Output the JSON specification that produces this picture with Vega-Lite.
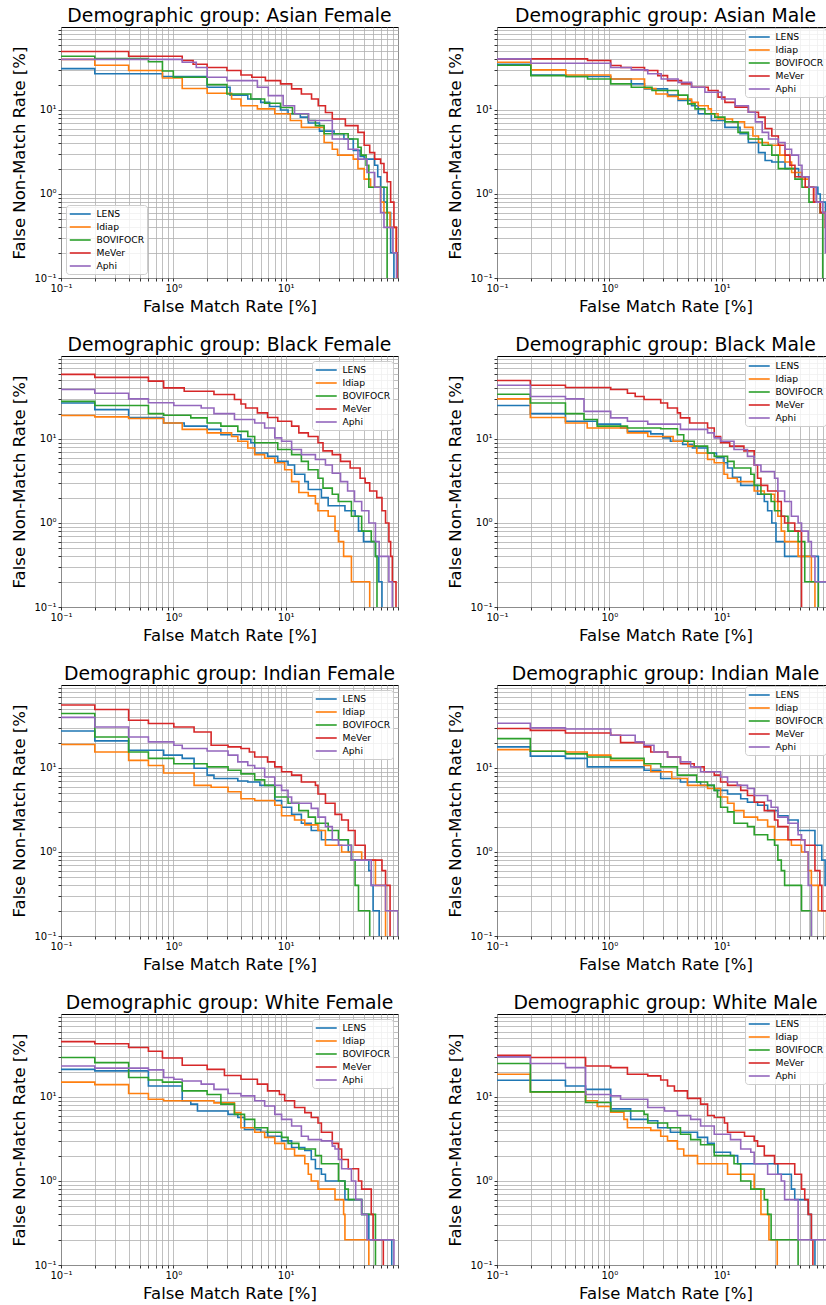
{
"$schema": "https://vega.github.io/schema/vega-lite/v6.json",
"padding": {"left": 10, "top": 6, "right": 0, "bottom": 0},
"spacing": 20,
"resolve": {"legend": {"color": "independent"}},
"config": {
 "font": "DejaVu Sans",
 "view": {"stroke": "#000000", "strokeWidth": 1},
 "axis": {"domain": false, "grid": true, "gridColor": "#b0b0b0", "gridWidth": 0.8, "gridOpacity": 1, "tickColor": "#000000", "tickSize": 3, "tickWidth": 0.8, "labelFont": "DejaVu Sans", "labelFontSize": 10, "labelColor": "#000000", "labelPadding": 2, "labelOverlap": false, "labelFlush": false, "titleFont": "DejaVu Sans", "titleFontSize": 16.5, "titleFontWeight": "normal", "titleColor": "#000000"},
 "title": {"font": "DejaVu Sans", "fontSize": 18.8, "fontWeight": "normal", "color": "#000000", "offset": -1, "anchor": "middle", "frame": "group"},
 "legend": {"labelFont": "DejaVu Sans", "labelFontSize": 9.2, "labelColor": "#000000", "symbolType": "M-1,0H3", "symbolSize": 110, "symbolStrokeWidth": 1.6, "labelOffset": 15, "rowPadding": 1, "padding": 2.5, "fillColor": "rgba(255,255,255,0.8)", "strokeColor": "#cccccc", "cornerRadius": 3, "offset": 5}
},
"vconcat": [
 {"hconcat": [
  {"width": 337, "height": 251, "title": {"text": "Demographic group: Asian Female"}, "data": {"name": "asian_female"},
   "mark": {"type": "line", "interpolate": "step-after", "clip": true, "strokeWidth": 1.6},
   "encoding": {
    "x": {"field": "fmr", "type": "quantitative", "scale": {"type": "log", "domain": [0.1, 100], "nice": false}, "axis": {"title": "False Match Rate [%]", "values": [0.1,0.2,0.3,0.4,0.5,0.6,0.7,0.8,0.9,1,2,3,4,5,6,7,8,9,10,20,30,40,50,60,70,80,90,100], "labelExpr": "datum.value == 0.1 ? '10⁻¹' : datum.value == 1 ? '10⁰' : datum.value == 10 ? '10¹' : ''", "titleX": 168.5, "titleY": 28, "titleBaseline": "middle"}},
    "y": {"field": "fnmr", "type": "quantitative", "scale": {"type": "log", "domain": [0.1, 97], "nice": false}, "axis": {"title": "False Non-Match Rate [%]", "values": [0.1,0.2,0.3,0.4,0.5,0.6,0.7,0.8,0.9,1,2,3,4,5,6,7,8,9,10,20,30,40,50,60,70,80,90], "labelExpr": "datum.value == 0.1 ? '10⁻¹' : datum.value == 1 ? '10⁰' : datum.value == 10 ? '10¹' : ''", "titleX": -42, "titleY": 125.5, "titleAngle": -90, "titleAlign": "center", "titleBaseline": "middle"}},
    "color": {"field": "system", "type": "nominal", "scale": {"domain": ["LENS","Idiap","BOVIFOCR","MeVer","Aphi"], "range": ["#1f77b4","#ff7f0e","#2ca02c","#d62728","#9467bd"]}, "legend": {"title": null, "orient": "bottom-left", "offset": 4.5}}
   }},
  {"width": 330, "height": 251, "title": {"text": "Demographic group: Asian Male", "dx": 3.5}, "data": {"name": "asian_male"},
   "mark": {"type": "line", "interpolate": "step-after", "clip": true, "strokeWidth": 1.6},
   "encoding": {
    "x": {"field": "fmr", "type": "quantitative", "scale": {"type": "log", "domain": [0.1, 86.8], "nice": false}, "axis": {"title": "False Match Rate [%]", "values": [0.1,0.2,0.3,0.4,0.5,0.6,0.7,0.8,0.9,1,2,3,4,5,6,7,8,9,10,20,30,40,50,60,70,80], "labelExpr": "datum.value == 0.1 ? '10⁻¹' : datum.value == 1 ? '10⁰' : datum.value == 10 ? '10¹' : ''", "titleX": 168.5, "titleY": 28, "titleBaseline": "middle"}},
    "y": {"field": "fnmr", "type": "quantitative", "scale": {"type": "log", "domain": [0.1, 97], "nice": false}, "axis": {"title": "False Non-Match Rate [%]", "values": [0.1,0.2,0.3,0.4,0.5,0.6,0.7,0.8,0.9,1,2,3,4,5,6,7,8,9,10,20,30,40,50,60,70,80,90], "labelExpr": "datum.value == 0.1 ? '10⁻¹' : datum.value == 1 ? '10⁰' : datum.value == 10 ? '10¹' : ''", "titleX": -42, "titleY": 125.5, "titleAngle": -90, "titleAlign": "center", "titleBaseline": "middle"}},
    "color": {"field": "system", "type": "nominal", "scale": {"domain": ["LENS","Idiap","BOVIFOCR","MeVer","Aphi"], "range": ["#1f77b4","#ff7f0e","#2ca02c","#d62728","#9467bd"]}, "legend": {"title": null, "orient": "top-right", "offset": 1}}
   }}
 ], "spacing": 47, "resolve": {"legend": {"color": "independent"}}},
 {"hconcat": [
  {"width": 337, "height": 251, "title": {"text": "Demographic group: Black Female"}, "data": {"name": "black_female"},
   "mark": {"type": "line", "interpolate": "step-after", "clip": true, "strokeWidth": 1.6},
   "encoding": {
    "x": {"field": "fmr", "type": "quantitative", "scale": {"type": "log", "domain": [0.1, 100], "nice": false}, "axis": {"title": "False Match Rate [%]", "values": [0.1,0.2,0.3,0.4,0.5,0.6,0.7,0.8,0.9,1,2,3,4,5,6,7,8,9,10,20,30,40,50,60,70,80,90,100], "labelExpr": "datum.value == 0.1 ? '10⁻¹' : datum.value == 1 ? '10⁰' : datum.value == 10 ? '10¹' : ''", "titleX": 168.5, "titleY": 28, "titleBaseline": "middle"}},
    "y": {"field": "fnmr", "type": "quantitative", "scale": {"type": "log", "domain": [0.1, 97], "nice": false}, "axis": {"title": "False Non-Match Rate [%]", "values": [0.1,0.2,0.3,0.4,0.5,0.6,0.7,0.8,0.9,1,2,3,4,5,6,7,8,9,10,20,30,40,50,60,70,80,90], "labelExpr": "datum.value == 0.1 ? '10⁻¹' : datum.value == 1 ? '10⁰' : datum.value == 10 ? '10¹' : ''", "titleX": -42, "titleY": 125.5, "titleAngle": -90, "titleAlign": "center", "titleBaseline": "middle"}},
    "color": {"field": "system", "type": "nominal", "scale": {"domain": ["LENS","Idiap","BOVIFOCR","MeVer","Aphi"], "range": ["#1f77b4","#ff7f0e","#2ca02c","#d62728","#9467bd"]}, "legend": {"title": null, "orient": "top-right", "offset": 5}}
   }},
  {"width": 330, "height": 251, "title": {"text": "Demographic group: Black Male", "dx": 3.5}, "data": {"name": "black_male"},
   "mark": {"type": "line", "interpolate": "step-after", "clip": true, "strokeWidth": 1.6},
   "encoding": {
    "x": {"field": "fmr", "type": "quantitative", "scale": {"type": "log", "domain": [0.1, 86.8], "nice": false}, "axis": {"title": "False Match Rate [%]", "values": [0.1,0.2,0.3,0.4,0.5,0.6,0.7,0.8,0.9,1,2,3,4,5,6,7,8,9,10,20,30,40,50,60,70,80], "labelExpr": "datum.value == 0.1 ? '10⁻¹' : datum.value == 1 ? '10⁰' : datum.value == 10 ? '10¹' : ''", "titleX": 168.5, "titleY": 28, "titleBaseline": "middle"}},
    "y": {"field": "fnmr", "type": "quantitative", "scale": {"type": "log", "domain": [0.1, 97], "nice": false}, "axis": {"title": "False Non-Match Rate [%]", "values": [0.1,0.2,0.3,0.4,0.5,0.6,0.7,0.8,0.9,1,2,3,4,5,6,7,8,9,10,20,30,40,50,60,70,80,90], "labelExpr": "datum.value == 0.1 ? '10⁻¹' : datum.value == 1 ? '10⁰' : datum.value == 10 ? '10¹' : ''", "titleX": -42, "titleY": 125.5, "titleAngle": -90, "titleAlign": "center", "titleBaseline": "middle"}},
    "color": {"field": "system", "type": "nominal", "scale": {"domain": ["LENS","Idiap","BOVIFOCR","MeVer","Aphi"], "range": ["#1f77b4","#ff7f0e","#2ca02c","#d62728","#9467bd"]}, "legend": {"title": null, "orient": "top-right", "offset": 1}}
   }}
 ], "spacing": 47, "resolve": {"legend": {"color": "independent"}}},
 {"hconcat": [
  {"width": 337, "height": 251, "title": {"text": "Demographic group: Indian Female"}, "data": {"name": "indian_female"},
   "mark": {"type": "line", "interpolate": "step-after", "clip": true, "strokeWidth": 1.6},
   "encoding": {
    "x": {"field": "fmr", "type": "quantitative", "scale": {"type": "log", "domain": [0.1, 100], "nice": false}, "axis": {"title": "False Match Rate [%]", "values": [0.1,0.2,0.3,0.4,0.5,0.6,0.7,0.8,0.9,1,2,3,4,5,6,7,8,9,10,20,30,40,50,60,70,80,90,100], "labelExpr": "datum.value == 0.1 ? '10⁻¹' : datum.value == 1 ? '10⁰' : datum.value == 10 ? '10¹' : ''", "titleX": 168.5, "titleY": 28, "titleBaseline": "middle"}},
    "y": {"field": "fnmr", "type": "quantitative", "scale": {"type": "log", "domain": [0.1, 97], "nice": false}, "axis": {"title": "False Non-Match Rate [%]", "values": [0.1,0.2,0.3,0.4,0.5,0.6,0.7,0.8,0.9,1,2,3,4,5,6,7,8,9,10,20,30,40,50,60,70,80,90], "labelExpr": "datum.value == 0.1 ? '10⁻¹' : datum.value == 1 ? '10⁰' : datum.value == 10 ? '10¹' : ''", "titleX": -42, "titleY": 125.5, "titleAngle": -90, "titleAlign": "center", "titleBaseline": "middle"}},
    "color": {"field": "system", "type": "nominal", "scale": {"domain": ["LENS","Idiap","BOVIFOCR","MeVer","Aphi"], "range": ["#1f77b4","#ff7f0e","#2ca02c","#d62728","#9467bd"]}, "legend": {"title": null, "orient": "top-right", "offset": 5}}
   }},
  {"width": 330, "height": 251, "title": {"text": "Demographic group: Indian Male", "dx": 3.5}, "data": {"name": "indian_male"},
   "mark": {"type": "line", "interpolate": "step-after", "clip": true, "strokeWidth": 1.6},
   "encoding": {
    "x": {"field": "fmr", "type": "quantitative", "scale": {"type": "log", "domain": [0.1, 86.8], "nice": false}, "axis": {"title": "False Match Rate [%]", "values": [0.1,0.2,0.3,0.4,0.5,0.6,0.7,0.8,0.9,1,2,3,4,5,6,7,8,9,10,20,30,40,50,60,70,80], "labelExpr": "datum.value == 0.1 ? '10⁻¹' : datum.value == 1 ? '10⁰' : datum.value == 10 ? '10¹' : ''", "titleX": 168.5, "titleY": 28, "titleBaseline": "middle"}},
    "y": {"field": "fnmr", "type": "quantitative", "scale": {"type": "log", "domain": [0.1, 97], "nice": false}, "axis": {"title": "False Non-Match Rate [%]", "values": [0.1,0.2,0.3,0.4,0.5,0.6,0.7,0.8,0.9,1,2,3,4,5,6,7,8,9,10,20,30,40,50,60,70,80,90], "labelExpr": "datum.value == 0.1 ? '10⁻¹' : datum.value == 1 ? '10⁰' : datum.value == 10 ? '10¹' : ''", "titleX": -42, "titleY": 125.5, "titleAngle": -90, "titleAlign": "center", "titleBaseline": "middle"}},
    "color": {"field": "system", "type": "nominal", "scale": {"domain": ["LENS","Idiap","BOVIFOCR","MeVer","Aphi"], "range": ["#1f77b4","#ff7f0e","#2ca02c","#d62728","#9467bd"]}, "legend": {"title": null, "orient": "top-right", "offset": 1}}
   }}
 ], "spacing": 47, "resolve": {"legend": {"color": "independent"}}},
 {"hconcat": [
  {"width": 337, "height": 251, "title": {"text": "Demographic group: White Female"}, "data": {"name": "white_female"},
   "mark": {"type": "line", "interpolate": "step-after", "clip": true, "strokeWidth": 1.6},
   "encoding": {
    "x": {"field": "fmr", "type": "quantitative", "scale": {"type": "log", "domain": [0.1, 100], "nice": false}, "axis": {"title": "False Match Rate [%]", "values": [0.1,0.2,0.3,0.4,0.5,0.6,0.7,0.8,0.9,1,2,3,4,5,6,7,8,9,10,20,30,40,50,60,70,80,90,100], "labelExpr": "datum.value == 0.1 ? '10⁻¹' : datum.value == 1 ? '10⁰' : datum.value == 10 ? '10¹' : ''", "titleX": 168.5, "titleY": 28, "titleBaseline": "middle"}},
    "y": {"field": "fnmr", "type": "quantitative", "scale": {"type": "log", "domain": [0.1, 97], "nice": false}, "axis": {"title": "False Non-Match Rate [%]", "values": [0.1,0.2,0.3,0.4,0.5,0.6,0.7,0.8,0.9,1,2,3,4,5,6,7,8,9,10,20,30,40,50,60,70,80,90], "labelExpr": "datum.value == 0.1 ? '10⁻¹' : datum.value == 1 ? '10⁰' : datum.value == 10 ? '10¹' : ''", "titleX": -42, "titleY": 125.5, "titleAngle": -90, "titleAlign": "center", "titleBaseline": "middle"}},
    "color": {"field": "system", "type": "nominal", "scale": {"domain": ["LENS","Idiap","BOVIFOCR","MeVer","Aphi"], "range": ["#1f77b4","#ff7f0e","#2ca02c","#d62728","#9467bd"]}, "legend": {"title": null, "orient": "top-right", "offset": 5}}
   }},
  {"width": 330, "height": 251, "title": {"text": "Demographic group: White Male", "dx": 3.5}, "data": {"name": "white_male"},
   "mark": {"type": "line", "interpolate": "step-after", "clip": true, "strokeWidth": 1.6},
   "encoding": {
    "x": {"field": "fmr", "type": "quantitative", "scale": {"type": "log", "domain": [0.1, 86.8], "nice": false}, "axis": {"title": "False Match Rate [%]", "values": [0.1,0.2,0.3,0.4,0.5,0.6,0.7,0.8,0.9,1,2,3,4,5,6,7,8,9,10,20,30,40,50,60,70,80], "labelExpr": "datum.value == 0.1 ? '10⁻¹' : datum.value == 1 ? '10⁰' : datum.value == 10 ? '10¹' : ''", "titleX": 168.5, "titleY": 28, "titleBaseline": "middle"}},
    "y": {"field": "fnmr", "type": "quantitative", "scale": {"type": "log", "domain": [0.1, 97], "nice": false}, "axis": {"title": "False Non-Match Rate [%]", "values": [0.1,0.2,0.3,0.4,0.5,0.6,0.7,0.8,0.9,1,2,3,4,5,6,7,8,9,10,20,30,40,50,60,70,80,90], "labelExpr": "datum.value == 0.1 ? '10⁻¹' : datum.value == 1 ? '10⁰' : datum.value == 10 ? '10¹' : ''", "titleX": -42, "titleY": 125.5, "titleAngle": -90, "titleAlign": "center", "titleBaseline": "middle"}},
    "color": {"field": "system", "type": "nominal", "scale": {"domain": ["LENS","Idiap","BOVIFOCR","MeVer","Aphi"], "range": ["#1f77b4","#ff7f0e","#2ca02c","#d62728","#9467bd"]}, "legend": {"title": null, "orient": "top-right", "offset": 1}}
   }}
 ], "spacing": 47, "resolve": {"legend": {"color": "independent"}}}
],
"datasets": {
"asian_female": [
{"system":"LENS","fmr":0.1,"fnmr":31},{"system":"LENS","fmr":0.2,"fnmr":27},{"system":"LENS","fmr":0.8,"fnmr":25},{"system":"LENS","fmr":2,"fnmr":18.6},{"system":"LENS","fmr":3.2,"fnmr":15},{"system":"LENS","fmr":4.6,"fnmr":13.5},{"system":"LENS","fmr":6,"fnmr":12.3},{"system":"LENS","fmr":7.2,"fnmr":11},{"system":"LENS","fmr":9,"fnmr":10},{"system":"LENS","fmr":10.5,"fnmr":9},{"system":"LENS","fmr":13.5,"fnmr":8.2},{"system":"LENS","fmr":15.9,"fnmr":7},{"system":"LENS","fmr":20,"fnmr":5.6},{"system":"LENS","fmr":27,"fnmr":5.2},{"system":"LENS","fmr":33,"fnmr":4.5},{"system":"LENS","fmr":40,"fnmr":3.3},{"system":"LENS","fmr":46,"fnmr":2.8},{"system":"LENS","fmr":50,"fnmr":2.6},{"system":"LENS","fmr":62,"fnmr":2.2},{"system":"LENS","fmr":66,"fnmr":1.6},{"system":"LENS","fmr":70,"fnmr":1.2},{"system":"LENS","fmr":75,"fnmr":0.8},{"system":"LENS","fmr":80,"fnmr":0.6},{"system":"LENS","fmr":86,"fnmr":0.2},{"system":"LENS","fmr":92,"fnmr":0.01},
{"system":"Idiap","fmr":0.1,"fnmr":40},{"system":"Idiap","fmr":0.2,"fnmr":34},{"system":"Idiap","fmr":0.4,"fnmr":29.5},{"system":"Idiap","fmr":0.8,"fnmr":24},{"system":"Idiap","fmr":1.2,"fnmr":18},{"system":"Idiap","fmr":2,"fnmr":15.8},{"system":"Idiap","fmr":3.3,"fnmr":13.5},{"system":"Idiap","fmr":4,"fnmr":11.2},{"system":"Idiap","fmr":5.6,"fnmr":10.3},{"system":"Idiap","fmr":8,"fnmr":9},{"system":"Idiap","fmr":11,"fnmr":7.5},{"system":"Idiap","fmr":13.8,"fnmr":6.2},{"system":"Idiap","fmr":22,"fnmr":4.1},{"system":"Idiap","fmr":26,"fnmr":3.4},{"system":"Idiap","fmr":29,"fnmr":2.9},{"system":"Idiap","fmr":40,"fnmr":2.6},{"system":"Idiap","fmr":44,"fnmr":2},{"system":"Idiap","fmr":50,"fnmr":1.5},{"system":"Idiap","fmr":57,"fnmr":1.2},{"system":"Idiap","fmr":70,"fnmr":0.8},{"system":"Idiap","fmr":75,"fnmr":0.6},{"system":"Idiap","fmr":85,"fnmr":0.4},{"system":"Idiap","fmr":96,"fnmr":0.2},{"system":"Idiap","fmr":99,"fnmr":0.01},
{"system":"BOVIFOCR","fmr":0.1,"fnmr":43.6},{"system":"BOVIFOCR","fmr":0.2,"fnmr":41},{"system":"BOVIFOCR","fmr":0.6,"fnmr":37.5},{"system":"BOVIFOCR","fmr":0.8,"fnmr":29},{"system":"BOVIFOCR","fmr":1,"fnmr":24.5},{"system":"BOVIFOCR","fmr":2,"fnmr":20},{"system":"BOVIFOCR","fmr":3,"fnmr":15.5},{"system":"BOVIFOCR","fmr":4.9,"fnmr":13.5},{"system":"BOVIFOCR","fmr":6.5,"fnmr":12},{"system":"BOVIFOCR","fmr":9,"fnmr":10.7},{"system":"BOVIFOCR","fmr":11.5,"fnmr":9},{"system":"BOVIFOCR","fmr":15.9,"fnmr":7.5},{"system":"BOVIFOCR","fmr":18.4,"fnmr":6.5},{"system":"BOVIFOCR","fmr":22,"fnmr":5.2},{"system":"BOVIFOCR","fmr":36,"fnmr":4.5},{"system":"BOVIFOCR","fmr":44,"fnmr":3.6},{"system":"BOVIFOCR","fmr":47,"fnmr":2.9},{"system":"BOVIFOCR","fmr":52,"fnmr":2.2},{"system":"BOVIFOCR","fmr":55,"fnmr":1.2},{"system":"BOVIFOCR","fmr":80,"fnmr":0.01},
{"system":"MeVer","fmr":0.1,"fnmr":49.5},{"system":"MeVer","fmr":0.4,"fnmr":43.6},{"system":"MeVer","fmr":1.2,"fnmr":38.7},{"system":"MeVer","fmr":1.5,"fnmr":35},{"system":"MeVer","fmr":2,"fnmr":32},{"system":"MeVer","fmr":3,"fnmr":29.5},{"system":"MeVer","fmr":4,"fnmr":26},{"system":"MeVer","fmr":5,"fnmr":24.5},{"system":"MeVer","fmr":6.6,"fnmr":22.3},{"system":"MeVer","fmr":9,"fnmr":20.4},{"system":"MeVer","fmr":11.3,"fnmr":17.8},{"system":"MeVer","fmr":13.8,"fnmr":15.5},{"system":"MeVer","fmr":17,"fnmr":13.5},{"system":"MeVer","fmr":19.5,"fnmr":11.2},{"system":"MeVer","fmr":22.6,"fnmr":9.3},{"system":"MeVer","fmr":26,"fnmr":7.8},{"system":"MeVer","fmr":34,"fnmr":6.5},{"system":"MeVer","fmr":44,"fnmr":5.4},{"system":"MeVer","fmr":50,"fnmr":3.8},{"system":"MeVer","fmr":56,"fnmr":3.1},{"system":"MeVer","fmr":62,"fnmr":2.6},{"system":"MeVer","fmr":70,"fnmr":2.3},{"system":"MeVer","fmr":75,"fnmr":1.8},{"system":"MeVer","fmr":80,"fnmr":1.4},{"system":"MeVer","fmr":86,"fnmr":0.8},{"system":"MeVer","fmr":92,"fnmr":0.4},{"system":"MeVer","fmr":97,"fnmr":0.2},{"system":"MeVer","fmr":100,"fnmr":0.01},
{"system":"Aphi","fmr":0.1,"fnmr":40},{"system":"Aphi","fmr":1.2,"fnmr":37},{"system":"Aphi","fmr":1.6,"fnmr":32},{"system":"Aphi","fmr":2,"fnmr":24.5},{"system":"Aphi","fmr":3,"fnmr":22.3},{"system":"Aphi","fmr":5.6,"fnmr":18.6},{"system":"Aphi","fmr":7,"fnmr":14.8},{"system":"Aphi","fmr":9.5,"fnmr":11.2},{"system":"Aphi","fmr":12,"fnmr":9},{"system":"Aphi","fmr":16,"fnmr":7.5},{"system":"Aphi","fmr":26,"fnmr":4.5},{"system":"Aphi","fmr":36,"fnmr":3.4},{"system":"Aphi","fmr":44,"fnmr":2.6},{"system":"Aphi","fmr":53,"fnmr":1.8},{"system":"Aphi","fmr":62,"fnmr":1.2},{"system":"Aphi","fmr":70,"fnmr":0.6},{"system":"Aphi","fmr":75,"fnmr":0.4},{"system":"Aphi","fmr":90,"fnmr":0.2},{"system":"Aphi","fmr":97,"fnmr":0.01}
],
"asian_male": [
{"system":"LENS","fmr":0.1,"fnmr":35},{"system":"LENS","fmr":0.2,"fnmr":26},{"system":"LENS","fmr":0.41,"fnmr":25},{"system":"LENS","fmr":1.03,"fnmr":23.3},{"system":"LENS","fmr":1.57,"fnmr":20.4},{"system":"LENS","fmr":2.06,"fnmr":17.8},{"system":"LENS","fmr":3.3,"fnmr":15},{"system":"LENS","fmr":4.1,"fnmr":13},{"system":"LENS","fmr":5.4,"fnmr":11.2},{"system":"LENS","fmr":6.2,"fnmr":9},{"system":"LENS","fmr":8.1,"fnmr":7.5},{"system":"LENS","fmr":10.7,"fnmr":6.2},{"system":"LENS","fmr":14.6,"fnmr":5.2},{"system":"LENS","fmr":17.3,"fnmr":4.1},{"system":"LENS","fmr":21.3,"fnmr":3.1},{"system":"LENS","fmr":24.4,"fnmr":2.5},{"system":"LENS","fmr":28,"fnmr":2.4},{"system":"LENS","fmr":36.7,"fnmr":2},{"system":"LENS","fmr":48.5,"fnmr":1.6},{"system":"LENS","fmr":60,"fnmr":1.2},{"system":"LENS","fmr":72,"fnmr":1},{"system":"LENS","fmr":75.6,"fnmr":0.8},{"system":"LENS","fmr":84,"fnmr":0.6},{"system":"LENS","fmr":100,"fnmr":0.01},
{"system":"Idiap","fmr":0.1,"fnmr":37},{"system":"Idiap","fmr":0.2,"fnmr":30},{"system":"Idiap","fmr":0.41,"fnmr":26},{"system":"Idiap","fmr":1.03,"fnmr":23.3},{"system":"Idiap","fmr":2.06,"fnmr":18},{"system":"Idiap","fmr":2.6,"fnmr":15.5},{"system":"Idiap","fmr":3.3,"fnmr":14.5},{"system":"Idiap","fmr":4.1,"fnmr":13.5},{"system":"Idiap","fmr":5.4,"fnmr":12.3},{"system":"Idiap","fmr":6.2,"fnmr":11.2},{"system":"Idiap","fmr":7.6,"fnmr":10.3},{"system":"Idiap","fmr":8.1,"fnmr":9},{"system":"Idiap","fmr":9.3,"fnmr":7.8},{"system":"Idiap","fmr":12.5,"fnmr":7.2},{"system":"Idiap","fmr":16,"fnmr":6.2},{"system":"Idiap","fmr":19,"fnmr":4.9},{"system":"Idiap","fmr":21.3,"fnmr":4.1},{"system":"Idiap","fmr":26,"fnmr":3.8},{"system":"Idiap","fmr":33,"fnmr":2.9},{"system":"Idiap","fmr":36.7,"fnmr":2.4},{"system":"Idiap","fmr":42,"fnmr":1.8},{"system":"Idiap","fmr":52,"fnmr":1.5},{"system":"Idiap","fmr":60,"fnmr":1.2},{"system":"Idiap","fmr":66,"fnmr":0.8},{"system":"Idiap","fmr":75.6,"fnmr":0.6},{"system":"Idiap","fmr":84,"fnmr":0.4},{"system":"Idiap","fmr":100,"fnmr":0.01},
{"system":"BOVIFOCR","fmr":0.1,"fnmr":34},{"system":"BOVIFOCR","fmr":0.2,"fnmr":25.6},{"system":"BOVIFOCR","fmr":0.41,"fnmr":25},{"system":"BOVIFOCR","fmr":0.64,"fnmr":23.3},{"system":"BOVIFOCR","fmr":1.03,"fnmr":20.4},{"system":"BOVIFOCR","fmr":1.57,"fnmr":18.6},{"system":"BOVIFOCR","fmr":2.4,"fnmr":17},{"system":"BOVIFOCR","fmr":4.1,"fnmr":15},{"system":"BOVIFOCR","fmr":5,"fnmr":11.8},{"system":"BOVIFOCR","fmr":5.8,"fnmr":10.3},{"system":"BOVIFOCR","fmr":7.1,"fnmr":9},{"system":"BOVIFOCR","fmr":8.7,"fnmr":8.2},{"system":"BOVIFOCR","fmr":10.7,"fnmr":7.2},{"system":"BOVIFOCR","fmr":14,"fnmr":5.4},{"system":"BOVIFOCR","fmr":17.3,"fnmr":4.5},{"system":"BOVIFOCR","fmr":23,"fnmr":3.8},{"system":"BOVIFOCR","fmr":28,"fnmr":2.9},{"system":"BOVIFOCR","fmr":32,"fnmr":2},{"system":"BOVIFOCR","fmr":45,"fnmr":1.5},{"system":"BOVIFOCR","fmr":52,"fnmr":1.2},{"system":"BOVIFOCR","fmr":60,"fnmr":0.8},{"system":"BOVIFOCR","fmr":75.6,"fnmr":0.6},{"system":"BOVIFOCR","fmr":79.5,"fnmr":0.01},
{"system":"MeVer","fmr":0.1,"fnmr":40.5},{"system":"MeVer","fmr":0.64,"fnmr":38.7},{"system":"MeVer","fmr":1.03,"fnmr":33.8},{"system":"MeVer","fmr":1.27,"fnmr":32},{"system":"MeVer","fmr":2.06,"fnmr":29.5},{"system":"MeVer","fmr":2.7,"fnmr":25.6},{"system":"MeVer","fmr":3.3,"fnmr":22.3},{"system":"MeVer","fmr":4.4,"fnmr":20.4},{"system":"MeVer","fmr":5.4,"fnmr":18.6},{"system":"MeVer","fmr":7.6,"fnmr":17},{"system":"MeVer","fmr":9.3,"fnmr":14.2},{"system":"MeVer","fmr":10.7,"fnmr":12.3},{"system":"MeVer","fmr":13.2,"fnmr":10.8},{"system":"MeVer","fmr":17.3,"fnmr":9.4},{"system":"MeVer","fmr":21.3,"fnmr":8.2},{"system":"MeVer","fmr":24.4,"fnmr":6},{"system":"MeVer","fmr":28,"fnmr":4.9},{"system":"MeVer","fmr":32,"fnmr":3.8},{"system":"MeVer","fmr":36.7,"fnmr":2.9},{"system":"MeVer","fmr":40.6,"fnmr":2.2},{"system":"MeVer","fmr":45,"fnmr":1.6},{"system":"MeVer","fmr":55.5,"fnmr":1.2},{"system":"MeVer","fmr":66,"fnmr":0.8},{"system":"MeVer","fmr":75.6,"fnmr":0.6},{"system":"MeVer","fmr":84,"fnmr":0.4},{"system":"MeVer","fmr":92,"fnmr":0.2},{"system":"MeVer","fmr":100,"fnmr":0.01},
{"system":"Aphi","fmr":0.1,"fnmr":40.5},{"system":"Aphi","fmr":0.2,"fnmr":36},{"system":"Aphi","fmr":1.03,"fnmr":32},{"system":"Aphi","fmr":1.57,"fnmr":30},{"system":"Aphi","fmr":2.2,"fnmr":27},{"system":"Aphi","fmr":2.9,"fnmr":23.3},{"system":"Aphi","fmr":4.1,"fnmr":21.3},{"system":"Aphi","fmr":5.4,"fnmr":18.6},{"system":"Aphi","fmr":7.1,"fnmr":16.2},{"system":"Aphi","fmr":10,"fnmr":13.5},{"system":"Aphi","fmr":13.2,"fnmr":11.2},{"system":"Aphi","fmr":17.3,"fnmr":9.4},{"system":"Aphi","fmr":20,"fnmr":7.2},{"system":"Aphi","fmr":23,"fnmr":5.4},{"system":"Aphi","fmr":26.2,"fnmr":4.5},{"system":"Aphi","fmr":32,"fnmr":4.1},{"system":"Aphi","fmr":36.7,"fnmr":3.4},{"system":"Aphi","fmr":42,"fnmr":2.9},{"system":"Aphi","fmr":48.5,"fnmr":2.2},{"system":"Aphi","fmr":52,"fnmr":1.6},{"system":"Aphi","fmr":60,"fnmr":1.2},{"system":"Aphi","fmr":69.5,"fnmr":0.8},{"system":"Aphi","fmr":79.5,"fnmr":0.6},{"system":"Aphi","fmr":84,"fnmr":0.2},{"system":"Aphi","fmr":100,"fnmr":0.01}
],
"black_female": [
{"system":"LENS","fmr":0.1,"fnmr":26.8},{"system":"LENS","fmr":0.2,"fnmr":22.3},{"system":"LENS","fmr":0.4,"fnmr":18},{"system":"LENS","fmr":0.82,"fnmr":15.5},{"system":"LENS","fmr":1.25,"fnmr":14.2},{"system":"LENS","fmr":2,"fnmr":13},{"system":"LENS","fmr":2.65,"fnmr":11.2},{"system":"LENS","fmr":4,"fnmr":9.9},{"system":"LENS","fmr":4.9,"fnmr":9},{"system":"LENS","fmr":5.3,"fnmr":6.8},{"system":"LENS","fmr":6.9,"fnmr":6.2},{"system":"LENS","fmr":8.5,"fnmr":5.4},{"system":"LENS","fmr":10.5,"fnmr":4.9},{"system":"LENS","fmr":12,"fnmr":3.8},{"system":"LENS","fmr":14.8,"fnmr":3.1},{"system":"LENS","fmr":15.9,"fnmr":2.5},{"system":"LENS","fmr":20.8,"fnmr":2},{"system":"LENS","fmr":23.9,"fnmr":1.6},{"system":"LENS","fmr":33.7,"fnmr":1.4},{"system":"LENS","fmr":41.5,"fnmr":1.2},{"system":"LENS","fmr":44.5,"fnmr":0.8},{"system":"LENS","fmr":49.3,"fnmr":0.6},{"system":"LENS","fmr":63,"fnmr":0.4},{"system":"LENS","fmr":67.5,"fnmr":0.2},{"system":"LENS","fmr":72,"fnmr":0.01},
{"system":"Idiap","fmr":0.1,"fnmr":19},{"system":"Idiap","fmr":0.2,"fnmr":18.3},{"system":"Idiap","fmr":0.4,"fnmr":17.5},{"system":"Idiap","fmr":0.82,"fnmr":15.5},{"system":"Idiap","fmr":1.2,"fnmr":13},{"system":"Idiap","fmr":2,"fnmr":11.8},{"system":"Idiap","fmr":3.3,"fnmr":10.7},{"system":"Idiap","fmr":3.75,"fnmr":9.4},{"system":"Idiap","fmr":4.6,"fnmr":7.8},{"system":"Idiap","fmr":5.3,"fnmr":6.5},{"system":"Idiap","fmr":6.5,"fnmr":5.9},{"system":"Idiap","fmr":8,"fnmr":5.2},{"system":"Idiap","fmr":9.8,"fnmr":4.3},{"system":"Idiap","fmr":11.3,"fnmr":3.1},{"system":"Idiap","fmr":13.1,"fnmr":2.3},{"system":"Idiap","fmr":15.9,"fnmr":2.1},{"system":"Idiap","fmr":18.4,"fnmr":1.7},{"system":"Idiap","fmr":19.4,"fnmr":1.4},{"system":"Idiap","fmr":23.9,"fnmr":1.2},{"system":"Idiap","fmr":27.5,"fnmr":0.8},{"system":"Idiap","fmr":29.5,"fnmr":0.6},{"system":"Idiap","fmr":32.8,"fnmr":0.4},{"system":"Idiap","fmr":38.5,"fnmr":0.2},{"system":"Idiap","fmr":56,"fnmr":0.01},
{"system":"BOVIFOCR","fmr":0.1,"fnmr":28},{"system":"BOVIFOCR","fmr":0.2,"fnmr":25},{"system":"BOVIFOCR","fmr":0.6,"fnmr":20},{"system":"BOVIFOCR","fmr":0.82,"fnmr":19.1},{"system":"BOVIFOCR","fmr":1.43,"fnmr":17.8},{"system":"BOVIFOCR","fmr":2,"fnmr":15.5},{"system":"BOVIFOCR","fmr":2.65,"fnmr":14.2},{"system":"BOVIFOCR","fmr":3.75,"fnmr":12.3},{"system":"BOVIFOCR","fmr":4.6,"fnmr":10.7},{"system":"BOVIFOCR","fmr":5.3,"fnmr":9},{"system":"BOVIFOCR","fmr":8.5,"fnmr":7.5},{"system":"BOVIFOCR","fmr":11.3,"fnmr":6.5},{"system":"BOVIFOCR","fmr":13.8,"fnmr":5.4},{"system":"BOVIFOCR","fmr":15.9,"fnmr":4.3},{"system":"BOVIFOCR","fmr":19.4,"fnmr":3.4},{"system":"BOVIFOCR","fmr":21.5,"fnmr":2.6},{"system":"BOVIFOCR","fmr":26,"fnmr":2.2},{"system":"BOVIFOCR","fmr":29.4,"fnmr":1.8},{"system":"BOVIFOCR","fmr":38.5,"fnmr":1.2},{"system":"BOVIFOCR","fmr":47.5,"fnmr":0.8},{"system":"BOVIFOCR","fmr":57.8,"fnmr":0.6},{"system":"BOVIFOCR","fmr":63,"fnmr":0.4},{"system":"BOVIFOCR","fmr":65,"fnmr":0.01},
{"system":"MeVer","fmr":0.1,"fnmr":58.6},{"system":"MeVer","fmr":0.2,"fnmr":54},{"system":"MeVer","fmr":0.6,"fnmr":48.7},{"system":"MeVer","fmr":0.82,"fnmr":40.5},{"system":"MeVer","fmr":1.25,"fnmr":37},{"system":"MeVer","fmr":2.3,"fnmr":33.8},{"system":"MeVer","fmr":3.5,"fnmr":29.5},{"system":"MeVer","fmr":4,"fnmr":26},{"system":"MeVer","fmr":4.4,"fnmr":23.3},{"system":"MeVer","fmr":5.6,"fnmr":20.4},{"system":"MeVer","fmr":6.9,"fnmr":18},{"system":"MeVer","fmr":8.5,"fnmr":16.2},{"system":"MeVer","fmr":11.3,"fnmr":14.2},{"system":"MeVer","fmr":13.1,"fnmr":11.8},{"system":"MeVer","fmr":15.9,"fnmr":10.7},{"system":"MeVer","fmr":19.4,"fnmr":9},{"system":"MeVer","fmr":21.5,"fnmr":7.2},{"system":"MeVer","fmr":26,"fnmr":6.5},{"system":"MeVer","fmr":30.8,"fnmr":5.4},{"system":"MeVer","fmr":37.5,"fnmr":4.5},{"system":"MeVer","fmr":46,"fnmr":3.4},{"system":"MeVer","fmr":51,"fnmr":3},{"system":"MeVer","fmr":56,"fnmr":2.4},{"system":"MeVer","fmr":64.7,"fnmr":2},{"system":"MeVer","fmr":72,"fnmr":1.4},{"system":"MeVer","fmr":77.5,"fnmr":1},{"system":"MeVer","fmr":83,"fnmr":0.6},{"system":"MeVer","fmr":86,"fnmr":0.4},{"system":"MeVer","fmr":89,"fnmr":0.2},{"system":"MeVer","fmr":96,"fnmr":0.01},
{"system":"Aphi","fmr":0.1,"fnmr":38.7},{"system":"Aphi","fmr":0.2,"fnmr":35},{"system":"Aphi","fmr":0.4,"fnmr":30},{"system":"Aphi","fmr":0.6,"fnmr":27},{"system":"Aphi","fmr":1.01,"fnmr":25},{"system":"Aphi","fmr":1.77,"fnmr":23.3},{"system":"Aphi","fmr":2.3,"fnmr":20},{"system":"Aphi","fmr":3.5,"fnmr":17},{"system":"Aphi","fmr":5.3,"fnmr":15.5},{"system":"Aphi","fmr":6.5,"fnmr":13.5},{"system":"Aphi","fmr":8,"fnmr":10.3},{"system":"Aphi","fmr":9.2,"fnmr":9.4},{"system":"Aphi","fmr":11.3,"fnmr":7.5},{"system":"Aphi","fmr":13.8,"fnmr":6.5},{"system":"Aphi","fmr":18.4,"fnmr":5.7},{"system":"Aphi","fmr":22.6,"fnmr":4.9},{"system":"Aphi","fmr":26,"fnmr":3.9},{"system":"Aphi","fmr":30.8,"fnmr":3.1},{"system":"Aphi","fmr":35.6,"fnmr":2.4},{"system":"Aphi","fmr":41,"fnmr":1.8},{"system":"Aphi","fmr":47.5,"fnmr":1.4},{"system":"Aphi","fmr":55,"fnmr":1},{"system":"Aphi","fmr":63,"fnmr":0.6},{"system":"Aphi","fmr":68,"fnmr":0.4},{"system":"Aphi","fmr":83,"fnmr":0.2},{"system":"Aphi","fmr":89,"fnmr":0.01}
],
"black_male": [
{"system":"LENS","fmr":0.1,"fnmr":25},{"system":"LENS","fmr":0.198,"fnmr":20},{"system":"LENS","fmr":0.407,"fnmr":16.2},{"system":"LENS","fmr":0.78,"fnmr":15},{"system":"LENS","fmr":1.26,"fnmr":13.5},{"system":"LENS","fmr":1.45,"fnmr":12.3},{"system":"LENS","fmr":2.34,"fnmr":11.5},{"system":"LENS","fmr":3,"fnmr":10.3},{"system":"LENS","fmr":3.5,"fnmr":9.4},{"system":"LENS","fmr":4.5,"fnmr":8.6},{"system":"LENS","fmr":5.5,"fnmr":7.8},{"system":"LENS","fmr":7.5,"fnmr":6.8},{"system":"LENS","fmr":9,"fnmr":6},{"system":"LENS","fmr":10.5,"fnmr":5.2},{"system":"LENS","fmr":11.3,"fnmr":4.5},{"system":"LENS","fmr":12.5,"fnmr":3.5},{"system":"LENS","fmr":14.8,"fnmr":2.8},{"system":"LENS","fmr":20.9,"fnmr":2.2},{"system":"LENS","fmr":24,"fnmr":1.8},{"system":"LENS","fmr":25.7,"fnmr":1.4},{"system":"LENS","fmr":28,"fnmr":1},{"system":"LENS","fmr":30.5,"fnmr":0.6},{"system":"LENS","fmr":36.4,"fnmr":0.4},{"system":"LENS","fmr":72.7,"fnmr":0.2},{"system":"LENS","fmr":100,"fnmr":0.01},
{"system":"Idiap","fmr":0.1,"fnmr":30},{"system":"Idiap","fmr":0.198,"fnmr":18},{"system":"Idiap","fmr":0.407,"fnmr":15.5},{"system":"Idiap","fmr":0.636,"fnmr":13.5},{"system":"Idiap","fmr":1.45,"fnmr":11.8},{"system":"Idiap","fmr":2.2,"fnmr":10.7},{"system":"Idiap","fmr":3.7,"fnmr":9.4},{"system":"Idiap","fmr":5,"fnmr":8.2},{"system":"Idiap","fmr":6,"fnmr":6.8},{"system":"Idiap","fmr":7.5,"fnmr":5.7},{"system":"Idiap","fmr":8.6,"fnmr":5.2},{"system":"Idiap","fmr":10.5,"fnmr":3.8},{"system":"Idiap","fmr":11.3,"fnmr":3.4},{"system":"Idiap","fmr":13.8,"fnmr":3.1},{"system":"Idiap","fmr":19.5,"fnmr":2.4},{"system":"Idiap","fmr":24,"fnmr":2.2},{"system":"Idiap","fmr":29.6,"fnmr":1.8},{"system":"Idiap","fmr":31.7,"fnmr":1.2},{"system":"Idiap","fmr":34,"fnmr":0.8},{"system":"Idiap","fmr":36.4,"fnmr":0.6},{"system":"Idiap","fmr":48,"fnmr":0.4},{"system":"Idiap","fmr":63,"fnmr":0.2},{"system":"Idiap","fmr":67.8,"fnmr":0.01},
{"system":"BOVIFOCR","fmr":0.1,"fnmr":34},{"system":"BOVIFOCR","fmr":0.198,"fnmr":26.8},{"system":"BOVIFOCR","fmr":0.407,"fnmr":20},{"system":"BOVIFOCR","fmr":0.595,"fnmr":17},{"system":"BOVIFOCR","fmr":0.78,"fnmr":14.2},{"system":"BOVIFOCR","fmr":1.45,"fnmr":13.5},{"system":"BOVIFOCR","fmr":2.87,"fnmr":13.2},{"system":"BOVIFOCR","fmr":4.04,"fnmr":11.2},{"system":"BOVIFOCR","fmr":4.6,"fnmr":9.4},{"system":"BOVIFOCR","fmr":5.7,"fnmr":8.2},{"system":"BOVIFOCR","fmr":7.5,"fnmr":6.8},{"system":"BOVIFOCR","fmr":8.6,"fnmr":6.2},{"system":"BOVIFOCR","fmr":11.3,"fnmr":5.4},{"system":"BOVIFOCR","fmr":12.9,"fnmr":4.5},{"system":"BOVIFOCR","fmr":18.2,"fnmr":3.8},{"system":"BOVIFOCR","fmr":19.5,"fnmr":2.8},{"system":"BOVIFOCR","fmr":22.4,"fnmr":2.2},{"system":"BOVIFOCR","fmr":27.6,"fnmr":1.8},{"system":"BOVIFOCR","fmr":29.6,"fnmr":1.4},{"system":"BOVIFOCR","fmr":34,"fnmr":1.2},{"system":"BOVIFOCR","fmr":39,"fnmr":0.8},{"system":"BOVIFOCR","fmr":48,"fnmr":0.6},{"system":"BOVIFOCR","fmr":55,"fnmr":0.2},{"system":"BOVIFOCR","fmr":72.7,"fnmr":0.01},
{"system":"MeVer","fmr":0.1,"fnmr":49.5},{"system":"MeVer","fmr":0.198,"fnmr":43.6},{"system":"MeVer","fmr":0.407,"fnmr":41},{"system":"MeVer","fmr":1.03,"fnmr":38.7},{"system":"MeVer","fmr":1.45,"fnmr":35},{"system":"MeVer","fmr":1.7,"fnmr":32},{"system":"MeVer","fmr":2.04,"fnmr":29.5},{"system":"MeVer","fmr":2.87,"fnmr":26.8},{"system":"MeVer","fmr":3.3,"fnmr":23.3},{"system":"MeVer","fmr":4.04,"fnmr":20.4},{"system":"MeVer","fmr":4.3,"fnmr":17.8},{"system":"MeVer","fmr":5.2,"fnmr":15.5},{"system":"MeVer","fmr":7.5,"fnmr":13.5},{"system":"MeVer","fmr":8.6,"fnmr":10.7},{"system":"MeVer","fmr":9.8,"fnmr":9},{"system":"MeVer","fmr":11.8,"fnmr":8.2},{"system":"MeVer","fmr":15.8,"fnmr":7.2},{"system":"MeVer","fmr":19.5,"fnmr":4.9},{"system":"MeVer","fmr":20.9,"fnmr":3.4},{"system":"MeVer","fmr":22.4,"fnmr":2.8},{"system":"MeVer","fmr":25.7,"fnmr":2.4},{"system":"MeVer","fmr":31.7,"fnmr":1.8},{"system":"MeVer","fmr":34,"fnmr":1.2},{"system":"MeVer","fmr":36.4,"fnmr":1},{"system":"MeVer","fmr":44.8,"fnmr":0.8},{"system":"MeVer","fmr":51.5,"fnmr":0.01},
{"system":"Aphi","fmr":0.1,"fnmr":43.6},{"system":"Aphi","fmr":0.198,"fnmr":32},{"system":"Aphi","fmr":0.407,"fnmr":30},{"system":"Aphi","fmr":0.595,"fnmr":21.3},{"system":"Aphi","fmr":1.03,"fnmr":17.8},{"system":"Aphi","fmr":1.45,"fnmr":16.2},{"system":"Aphi","fmr":2.2,"fnmr":15},{"system":"Aphi","fmr":4.3,"fnmr":13},{"system":"Aphi","fmr":7.5,"fnmr":11.8},{"system":"Aphi","fmr":8.6,"fnmr":10.3},{"system":"Aphi","fmr":9.8,"fnmr":9.4},{"system":"Aphi","fmr":12.9,"fnmr":7.5},{"system":"Aphi","fmr":17,"fnmr":6.2},{"system":"Aphi","fmr":19.5,"fnmr":4.9},{"system":"Aphi","fmr":22.4,"fnmr":4.1},{"system":"Aphi","fmr":29.6,"fnmr":3.4},{"system":"Aphi","fmr":31.7,"fnmr":2.4},{"system":"Aphi","fmr":36.4,"fnmr":1.8},{"system":"Aphi","fmr":41.8,"fnmr":1.2},{"system":"Aphi","fmr":48,"fnmr":1},{"system":"Aphi","fmr":51.5,"fnmr":0.8},{"system":"Aphi","fmr":59,"fnmr":0.6},{"system":"Aphi","fmr":63,"fnmr":0.4},{"system":"Aphi","fmr":67.8,"fnmr":0.2},{"system":"Aphi","fmr":100,"fnmr":0.01}
],
"indian_female": [
{"system":"LENS","fmr":0.1,"fnmr":27.5},{"system":"LENS","fmr":0.2,"fnmr":21},{"system":"LENS","fmr":0.4,"fnmr":16.2},{"system":"LENS","fmr":0.82,"fnmr":14.2},{"system":"LENS","fmr":1.2,"fnmr":13},{"system":"LENS","fmr":1.53,"fnmr":9.9},{"system":"LENS","fmr":2,"fnmr":8.2},{"system":"LENS","fmr":2.3,"fnmr":7.5},{"system":"LENS","fmr":3.75,"fnmr":7},{"system":"LENS","fmr":4.6,"fnmr":6.8},{"system":"LENS","fmr":5.9,"fnmr":6.2},{"system":"LENS","fmr":8,"fnmr":4.1},{"system":"LENS","fmr":9.2,"fnmr":3.4},{"system":"LENS","fmr":11.3,"fnmr":2.8},{"system":"LENS","fmr":13.8,"fnmr":2.2},{"system":"LENS","fmr":16.9,"fnmr":1.8},{"system":"LENS","fmr":20.8,"fnmr":1.4},{"system":"LENS","fmr":36.1,"fnmr":1},{"system":"LENS","fmr":38.5,"fnmr":0.8},{"system":"LENS","fmr":55,"fnmr":0.6},{"system":"LENS","fmr":57.8,"fnmr":0.4},{"system":"LENS","fmr":60,"fnmr":0.2},{"system":"LENS","fmr":68,"fnmr":0.01},
{"system":"Idiap","fmr":0.1,"fnmr":19},{"system":"Idiap","fmr":0.2,"fnmr":15.5},{"system":"Idiap","fmr":0.4,"fnmr":12.3},{"system":"Idiap","fmr":0.6,"fnmr":10.7},{"system":"Idiap","fmr":0.82,"fnmr":8.7},{"system":"Idiap","fmr":1.53,"fnmr":6.2},{"system":"Idiap","fmr":2.17,"fnmr":5.9},{"system":"Idiap","fmr":3.07,"fnmr":5.2},{"system":"Idiap","fmr":4,"fnmr":4.3},{"system":"Idiap","fmr":5.3,"fnmr":4.1},{"system":"Idiap","fmr":8,"fnmr":3.6},{"system":"Idiap","fmr":9.2,"fnmr":2.7},{"system":"Idiap","fmr":12,"fnmr":2.4},{"system":"Idiap","fmr":14.8,"fnmr":2.1},{"system":"Idiap","fmr":19.4,"fnmr":1.8},{"system":"Idiap","fmr":22.6,"fnmr":1.2},{"system":"Idiap","fmr":31.5,"fnmr":1},{"system":"Idiap","fmr":47.5,"fnmr":0.8},{"system":"Idiap","fmr":63,"fnmr":0.4},{"system":"Idiap","fmr":77.5,"fnmr":0.01},
{"system":"BOVIFOCR","fmr":0.1,"fnmr":44.5},{"system":"BOVIFOCR","fmr":0.2,"fnmr":23.3},{"system":"BOVIFOCR","fmr":0.4,"fnmr":15.5},{"system":"BOVIFOCR","fmr":0.6,"fnmr":13},{"system":"BOVIFOCR","fmr":1.01,"fnmr":11.2},{"system":"BOVIFOCR","fmr":2,"fnmr":10.3},{"system":"BOVIFOCR","fmr":3.07,"fnmr":9.4},{"system":"BOVIFOCR","fmr":4,"fnmr":8.5},{"system":"BOVIFOCR","fmr":5.3,"fnmr":7.2},{"system":"BOVIFOCR","fmr":6.5,"fnmr":6.2},{"system":"BOVIFOCR","fmr":8,"fnmr":4.5},{"system":"BOVIFOCR","fmr":10.5,"fnmr":3.8},{"system":"BOVIFOCR","fmr":13.1,"fnmr":3.1},{"system":"BOVIFOCR","fmr":15.9,"fnmr":2.6},{"system":"BOVIFOCR","fmr":18.4,"fnmr":2.2},{"system":"BOVIFOCR","fmr":23.9,"fnmr":1.8},{"system":"BOVIFOCR","fmr":29.5,"fnmr":1.4},{"system":"BOVIFOCR","fmr":36.1,"fnmr":1.2},{"system":"BOVIFOCR","fmr":38.5,"fnmr":0.8},{"system":"BOVIFOCR","fmr":41.5,"fnmr":0.4},{"system":"BOVIFOCR","fmr":44.5,"fnmr":0.2},{"system":"BOVIFOCR","fmr":56,"fnmr":0.01},
{"system":"MeVer","fmr":0.1,"fnmr":56},{"system":"MeVer","fmr":0.2,"fnmr":49.5},{"system":"MeVer","fmr":0.4,"fnmr":37},{"system":"MeVer","fmr":0.6,"fnmr":33.8},{"system":"MeVer","fmr":1.01,"fnmr":30.7},{"system":"MeVer","fmr":1.53,"fnmr":26.8},{"system":"MeVer","fmr":2.17,"fnmr":18.6},{"system":"MeVer","fmr":3.07,"fnmr":17.8},{"system":"MeVer","fmr":4,"fnmr":17},{"system":"MeVer","fmr":4.75,"fnmr":15.5},{"system":"MeVer","fmr":5.3,"fnmr":13.5},{"system":"MeVer","fmr":6.9,"fnmr":11.8},{"system":"MeVer","fmr":8,"fnmr":10.3},{"system":"MeVer","fmr":9.2,"fnmr":9},{"system":"MeVer","fmr":11.3,"fnmr":8.2},{"system":"MeVer","fmr":13.8,"fnmr":6.8},{"system":"MeVer","fmr":18.4,"fnmr":6.2},{"system":"MeVer","fmr":19.4,"fnmr":4.9},{"system":"MeVer","fmr":22.6,"fnmr":3.8},{"system":"MeVer","fmr":27.5,"fnmr":2.8},{"system":"MeVer","fmr":31.5,"fnmr":2.4},{"system":"MeVer","fmr":36.1,"fnmr":1.8},{"system":"MeVer","fmr":41.5,"fnmr":1.2},{"system":"MeVer","fmr":51,"fnmr":0.8},{"system":"MeVer","fmr":72,"fnmr":0.6},{"system":"MeVer","fmr":77.5,"fnmr":0.4},{"system":"MeVer","fmr":85,"fnmr":0.01},
{"system":"Aphi","fmr":0.1,"fnmr":40},{"system":"Aphi","fmr":0.2,"fnmr":30.7},{"system":"Aphi","fmr":0.4,"fnmr":23.3},{"system":"Aphi","fmr":0.6,"fnmr":20.4},{"system":"Aphi","fmr":1.01,"fnmr":18.6},{"system":"Aphi","fmr":1.2,"fnmr":17},{"system":"Aphi","fmr":2,"fnmr":15.9},{"system":"Aphi","fmr":3.07,"fnmr":14.2},{"system":"Aphi","fmr":3.75,"fnmr":11.8},{"system":"Aphi","fmr":4.6,"fnmr":10.7},{"system":"Aphi","fmr":5.3,"fnmr":9.9},{"system":"Aphi","fmr":6.5,"fnmr":7.8},{"system":"Aphi","fmr":8,"fnmr":6.2},{"system":"Aphi","fmr":9.2,"fnmr":5.4},{"system":"Aphi","fmr":10.5,"fnmr":4.5},{"system":"Aphi","fmr":11.3,"fnmr":3.8},{"system":"Aphi","fmr":16.9,"fnmr":3.3},{"system":"Aphi","fmr":19.4,"fnmr":2.6},{"system":"Aphi","fmr":22.6,"fnmr":2},{"system":"Aphi","fmr":26,"fnmr":1.4},{"system":"Aphi","fmr":29.5,"fnmr":1.2},{"system":"Aphi","fmr":38.5,"fnmr":0.8},{"system":"Aphi","fmr":57.8,"fnmr":0.4},{"system":"Aphi","fmr":77.5,"fnmr":0.2},{"system":"Aphi","fmr":100,"fnmr":0.01}
],
"indian_male": [
{"system":"LENS","fmr":0.1,"fnmr":17.8},{"system":"LENS","fmr":0.198,"fnmr":13.8},{"system":"LENS","fmr":0.407,"fnmr":13},{"system":"LENS","fmr":0.636,"fnmr":10.3},{"system":"LENS","fmr":2.04,"fnmr":9.4},{"system":"LENS","fmr":2.87,"fnmr":7.5},{"system":"LENS","fmr":4.3,"fnmr":6.8},{"system":"LENS","fmr":6.5,"fnmr":6.2},{"system":"LENS","fmr":8.6,"fnmr":5.4},{"system":"LENS","fmr":11.3,"fnmr":4.9},{"system":"LENS","fmr":14.8,"fnmr":4.3},{"system":"LENS","fmr":17,"fnmr":3.9},{"system":"LENS","fmr":20.9,"fnmr":3.6},{"system":"LENS","fmr":25.7,"fnmr":3.1},{"system":"LENS","fmr":31.7,"fnmr":2.7},{"system":"LENS","fmr":39,"fnmr":2.4},{"system":"LENS","fmr":48,"fnmr":1.8},{"system":"LENS","fmr":67.8,"fnmr":1.2},{"system":"LENS","fmr":78,"fnmr":0.8},{"system":"LENS","fmr":83.5,"fnmr":0.4},{"system":"LENS","fmr":100,"fnmr":0.01},
{"system":"Idiap","fmr":0.1,"fnmr":16.5},{"system":"Idiap","fmr":0.198,"fnmr":15.8},{"system":"Idiap","fmr":0.407,"fnmr":15.5},{"system":"Idiap","fmr":0.636,"fnmr":14.2},{"system":"Idiap","fmr":1.03,"fnmr":12.3},{"system":"Idiap","fmr":2.04,"fnmr":10.7},{"system":"Idiap","fmr":2.34,"fnmr":9},{"system":"Idiap","fmr":3.6,"fnmr":7.5},{"system":"Idiap","fmr":4.96,"fnmr":6.2},{"system":"Idiap","fmr":7.5,"fnmr":5.7},{"system":"Idiap","fmr":9.8,"fnmr":4.5},{"system":"Idiap","fmr":11.3,"fnmr":3.8},{"system":"Idiap","fmr":12.9,"fnmr":3.1},{"system":"Idiap","fmr":15.8,"fnmr":2.6},{"system":"Idiap","fmr":20.9,"fnmr":2.4},{"system":"Idiap","fmr":25.7,"fnmr":2},{"system":"Idiap","fmr":29.6,"fnmr":1.4},{"system":"Idiap","fmr":41.8,"fnmr":1.2},{"system":"Idiap","fmr":51.5,"fnmr":1},{"system":"Idiap","fmr":59,"fnmr":0.6},{"system":"Idiap","fmr":63,"fnmr":0.4},{"system":"Idiap","fmr":72.7,"fnmr":0.2},{"system":"Idiap","fmr":86,"fnmr":0.01},
{"system":"BOVIFOCR","fmr":0.1,"fnmr":22.3},{"system":"BOVIFOCR","fmr":0.198,"fnmr":15.8},{"system":"BOVIFOCR","fmr":0.407,"fnmr":14.7},{"system":"BOVIFOCR","fmr":0.636,"fnmr":13.5},{"system":"BOVIFOCR","fmr":1.03,"fnmr":13},{"system":"BOVIFOCR","fmr":2.04,"fnmr":11.2},{"system":"BOVIFOCR","fmr":2.87,"fnmr":10.3},{"system":"BOVIFOCR","fmr":4.04,"fnmr":8.2},{"system":"BOVIFOCR","fmr":6,"fnmr":6.8},{"system":"BOVIFOCR","fmr":7.5,"fnmr":6.2},{"system":"BOVIFOCR","fmr":8.6,"fnmr":5.4},{"system":"BOVIFOCR","fmr":9.2,"fnmr":4.5},{"system":"BOVIFOCR","fmr":9.8,"fnmr":3.4},{"system":"BOVIFOCR","fmr":11.3,"fnmr":3},{"system":"BOVIFOCR","fmr":12.9,"fnmr":2.2},{"system":"BOVIFOCR","fmr":17,"fnmr":2},{"system":"BOVIFOCR","fmr":19.5,"fnmr":1.6},{"system":"BOVIFOCR","fmr":25.7,"fnmr":1.4},{"system":"BOVIFOCR","fmr":29.6,"fnmr":1.2},{"system":"BOVIFOCR","fmr":31.7,"fnmr":0.8},{"system":"BOVIFOCR","fmr":34,"fnmr":0.6},{"system":"BOVIFOCR","fmr":36.4,"fnmr":0.4},{"system":"BOVIFOCR","fmr":51.5,"fnmr":0.2},{"system":"BOVIFOCR","fmr":63,"fnmr":0.01},
{"system":"MeVer","fmr":0.1,"fnmr":29.5},{"system":"MeVer","fmr":0.198,"fnmr":28},{"system":"MeVer","fmr":0.407,"fnmr":26},{"system":"MeVer","fmr":1.03,"fnmr":24.5},{"system":"MeVer","fmr":1.26,"fnmr":20},{"system":"MeVer","fmr":2.04,"fnmr":17.8},{"system":"MeVer","fmr":2.34,"fnmr":15.5},{"system":"MeVer","fmr":3.3,"fnmr":13.5},{"system":"MeVer","fmr":4.3,"fnmr":11.2},{"system":"MeVer","fmr":5.7,"fnmr":10.3},{"system":"MeVer","fmr":7,"fnmr":9},{"system":"MeVer","fmr":8.6,"fnmr":8.2},{"system":"MeVer","fmr":9.8,"fnmr":6.8},{"system":"MeVer","fmr":11.3,"fnmr":6.2},{"system":"MeVer","fmr":14.8,"fnmr":5.4},{"system":"MeVer","fmr":17,"fnmr":4.7},{"system":"MeVer","fmr":19.5,"fnmr":3.9},{"system":"MeVer","fmr":24,"fnmr":3.1},{"system":"MeVer","fmr":29.6,"fnmr":2.4},{"system":"MeVer","fmr":31.7,"fnmr":2},{"system":"MeVer","fmr":39,"fnmr":1.4},{"system":"MeVer","fmr":55,"fnmr":1.2},{"system":"MeVer","fmr":67.8,"fnmr":0.6},{"system":"MeVer","fmr":75,"fnmr":0.4},{"system":"MeVer","fmr":78,"fnmr":0.2},{"system":"MeVer","fmr":100,"fnmr":0.01},
{"system":"Aphi","fmr":0.1,"fnmr":34},{"system":"Aphi","fmr":0.198,"fnmr":30},{"system":"Aphi","fmr":0.407,"fnmr":29},{"system":"Aphi","fmr":1.03,"fnmr":24.5},{"system":"Aphi","fmr":1.7,"fnmr":20.4},{"system":"Aphi","fmr":2.04,"fnmr":18.6},{"system":"Aphi","fmr":2.5,"fnmr":15.5},{"system":"Aphi","fmr":3.3,"fnmr":13.5},{"system":"Aphi","fmr":4.3,"fnmr":11.8},{"system":"Aphi","fmr":5.3,"fnmr":10.3},{"system":"Aphi","fmr":6.5,"fnmr":9},{"system":"Aphi","fmr":9.8,"fnmr":7.8},{"system":"Aphi","fmr":11.3,"fnmr":6.8},{"system":"Aphi","fmr":13.8,"fnmr":6.2},{"system":"Aphi","fmr":17,"fnmr":5.7},{"system":"Aphi","fmr":19.5,"fnmr":4.7},{"system":"Aphi","fmr":25.7,"fnmr":4.1},{"system":"Aphi","fmr":27.6,"fnmr":3.4},{"system":"Aphi","fmr":31.7,"fnmr":2.6},{"system":"Aphi","fmr":39,"fnmr":2.2},{"system":"Aphi","fmr":48,"fnmr":1.6},{"system":"Aphi","fmr":51.5,"fnmr":1.4},{"system":"Aphi","fmr":55,"fnmr":1},{"system":"Aphi","fmr":59,"fnmr":0.4},{"system":"Aphi","fmr":63,"fnmr":0.01}
],
"white_female": [
{"system":"LENS","fmr":0.1,"fnmr":21.3},{"system":"LENS","fmr":0.2,"fnmr":20.4},{"system":"LENS","fmr":0.6,"fnmr":13.5},{"system":"LENS","fmr":1.2,"fnmr":9},{"system":"LENS","fmr":1.43,"fnmr":8.2},{"system":"LENS","fmr":1.64,"fnmr":6.8},{"system":"LENS","fmr":3.07,"fnmr":6.2},{"system":"LENS","fmr":3.75,"fnmr":5.7},{"system":"LENS","fmr":4.3,"fnmr":4.1},{"system":"LENS","fmr":6,"fnmr":3.8},{"system":"LENS","fmr":6.9,"fnmr":3.4},{"system":"LENS","fmr":9.2,"fnmr":3},{"system":"LENS","fmr":11.3,"fnmr":2.5},{"system":"LENS","fmr":14.8,"fnmr":2.3},{"system":"LENS","fmr":16.9,"fnmr":1.8},{"system":"LENS","fmr":18.4,"fnmr":1.4},{"system":"LENS","fmr":20.8,"fnmr":1.2},{"system":"LENS","fmr":22.6,"fnmr":1},{"system":"LENS","fmr":33.7,"fnmr":0.6},{"system":"LENS","fmr":47.5,"fnmr":0.4},{"system":"LENS","fmr":55,"fnmr":0.2},{"system":"LENS","fmr":88,"fnmr":0.01},
{"system":"Idiap","fmr":0.1,"fnmr":15},{"system":"Idiap","fmr":0.2,"fnmr":14},{"system":"Idiap","fmr":0.4,"fnmr":11},{"system":"Idiap","fmr":0.6,"fnmr":9.4},{"system":"Idiap","fmr":0.82,"fnmr":9},{"system":"Idiap","fmr":2.3,"fnmr":8.5},{"system":"Idiap","fmr":3.5,"fnmr":6.5},{"system":"Idiap","fmr":4,"fnmr":4.3},{"system":"Idiap","fmr":5.3,"fnmr":3.8},{"system":"Idiap","fmr":6.5,"fnmr":3.3},{"system":"Idiap","fmr":8,"fnmr":2.8},{"system":"Idiap","fmr":9.8,"fnmr":2.4},{"system":"Idiap","fmr":12,"fnmr":2},{"system":"Idiap","fmr":14.8,"fnmr":1.6},{"system":"Idiap","fmr":15.9,"fnmr":1.2},{"system":"Idiap","fmr":16.9,"fnmr":1},{"system":"Idiap","fmr":19.4,"fnmr":0.8},{"system":"Idiap","fmr":27.5,"fnmr":0.6},{"system":"Idiap","fmr":32.8,"fnmr":0.4},{"system":"Idiap","fmr":33.7,"fnmr":0.2},{"system":"Idiap","fmr":55,"fnmr":0.01},
{"system":"BOVIFOCR","fmr":0.1,"fnmr":29.5},{"system":"BOVIFOCR","fmr":0.2,"fnmr":25.6},{"system":"BOVIFOCR","fmr":0.4,"fnmr":17},{"system":"BOVIFOCR","fmr":0.6,"fnmr":15.9},{"system":"BOVIFOCR","fmr":0.8,"fnmr":15},{"system":"BOVIFOCR","fmr":1.2,"fnmr":11.8},{"system":"BOVIFOCR","fmr":2,"fnmr":10.7},{"system":"BOVIFOCR","fmr":2.65,"fnmr":8.2},{"system":"BOVIFOCR","fmr":3.5,"fnmr":6.2},{"system":"BOVIFOCR","fmr":4.3,"fnmr":5.4},{"system":"BOVIFOCR","fmr":5.3,"fnmr":4.3},{"system":"BOVIFOCR","fmr":6.9,"fnmr":3.8},{"system":"BOVIFOCR","fmr":9.2,"fnmr":3.3},{"system":"BOVIFOCR","fmr":10.5,"fnmr":2.8},{"system":"BOVIFOCR","fmr":13.1,"fnmr":2.4},{"system":"BOVIFOCR","fmr":18.4,"fnmr":2},{"system":"BOVIFOCR","fmr":20.8,"fnmr":1.6},{"system":"BOVIFOCR","fmr":29.5,"fnmr":1},{"system":"BOVIFOCR","fmr":33.7,"fnmr":0.8},{"system":"BOVIFOCR","fmr":36.1,"fnmr":0.6},{"system":"BOVIFOCR","fmr":47.5,"fnmr":0.4},{"system":"BOVIFOCR","fmr":63,"fnmr":0.01},
{"system":"MeVer","fmr":0.1,"fnmr":45.5},{"system":"MeVer","fmr":0.2,"fnmr":43},{"system":"MeVer","fmr":0.4,"fnmr":38.7},{"system":"MeVer","fmr":0.6,"fnmr":35},{"system":"MeVer","fmr":0.8,"fnmr":29},{"system":"MeVer","fmr":1.2,"fnmr":23.8},{"system":"MeVer","fmr":2,"fnmr":21.3},{"system":"MeVer","fmr":2.85,"fnmr":18},{"system":"MeVer","fmr":4,"fnmr":16.2},{"system":"MeVer","fmr":5.6,"fnmr":14.2},{"system":"MeVer","fmr":6.9,"fnmr":11.8},{"system":"MeVer","fmr":8.8,"fnmr":10.7},{"system":"MeVer","fmr":9.8,"fnmr":9},{"system":"MeVer","fmr":12,"fnmr":7.5},{"system":"MeVer","fmr":14.8,"fnmr":6.5},{"system":"MeVer","fmr":16.9,"fnmr":5.7},{"system":"MeVer","fmr":19.4,"fnmr":4.9},{"system":"MeVer","fmr":20.8,"fnmr":3.8},{"system":"MeVer","fmr":26,"fnmr":2.8},{"system":"MeVer","fmr":29.5,"fnmr":2.4},{"system":"MeVer","fmr":31.5,"fnmr":1.8},{"system":"MeVer","fmr":36.1,"fnmr":1.4},{"system":"MeVer","fmr":44.5,"fnmr":1},{"system":"MeVer","fmr":47.5,"fnmr":0.8},{"system":"MeVer","fmr":57.8,"fnmr":0.4},{"system":"MeVer","fmr":60,"fnmr":0.2},{"system":"MeVer","fmr":74,"fnmr":0.01},
{"system":"Aphi","fmr":0.1,"fnmr":23.3},{"system":"Aphi","fmr":0.2,"fnmr":22},{"system":"Aphi","fmr":0.6,"fnmr":21},{"system":"Aphi","fmr":0.82,"fnmr":17},{"system":"Aphi","fmr":1.01,"fnmr":16.2},{"system":"Aphi","fmr":1.2,"fnmr":15.5},{"system":"Aphi","fmr":1.77,"fnmr":14.2},{"system":"Aphi","fmr":2.3,"fnmr":12.3},{"system":"Aphi","fmr":3.07,"fnmr":11},{"system":"Aphi","fmr":4,"fnmr":10.3},{"system":"Aphi","fmr":5.3,"fnmr":9},{"system":"Aphi","fmr":6.5,"fnmr":7.8},{"system":"Aphi","fmr":8,"fnmr":6.2},{"system":"Aphi","fmr":9.2,"fnmr":5.4},{"system":"Aphi","fmr":11.3,"fnmr":4.5},{"system":"Aphi","fmr":13.8,"fnmr":3.4},{"system":"Aphi","fmr":15.9,"fnmr":3.1},{"system":"Aphi","fmr":20.8,"fnmr":3},{"system":"Aphi","fmr":26,"fnmr":2.6},{"system":"Aphi","fmr":27.5,"fnmr":2.4},{"system":"Aphi","fmr":29.5,"fnmr":1.8},{"system":"Aphi","fmr":31.5,"fnmr":1.4},{"system":"Aphi","fmr":38.5,"fnmr":1},{"system":"Aphi","fmr":42,"fnmr":0.6},{"system":"Aphi","fmr":47.5,"fnmr":0.4},{"system":"Aphi","fmr":53,"fnmr":0.2},{"system":"Aphi","fmr":92,"fnmr":0.01}
],
"white_male": [
{"system":"LENS","fmr":0.1,"fnmr":15.8},{"system":"LENS","fmr":0.407,"fnmr":13.5},{"system":"LENS","fmr":0.615,"fnmr":12.3},{"system":"LENS","fmr":1.03,"fnmr":7.2},{"system":"LENS","fmr":1.55,"fnmr":5.4},{"system":"LENS","fmr":2.2,"fnmr":5.2},{"system":"LENS","fmr":2.7,"fnmr":4.3},{"system":"LENS","fmr":3.5,"fnmr":3.8},{"system":"LENS","fmr":6.1,"fnmr":3.3},{"system":"LENS","fmr":7.5,"fnmr":2.8},{"system":"LENS","fmr":8.6,"fnmr":2.2},{"system":"LENS","fmr":12,"fnmr":2},{"system":"LENS","fmr":13.9,"fnmr":1.6},{"system":"LENS","fmr":31.7,"fnmr":1.2},{"system":"LENS","fmr":41.8,"fnmr":0.8},{"system":"LENS","fmr":44.8,"fnmr":0.6},{"system":"LENS","fmr":59,"fnmr":0.4},{"system":"LENS","fmr":63,"fnmr":0.2},{"system":"LENS","fmr":67.8,"fnmr":0.01},
{"system":"Idiap","fmr":0.1,"fnmr":18.6},{"system":"Idiap","fmr":0.198,"fnmr":11.5},{"system":"Idiap","fmr":0.615,"fnmr":9},{"system":"Idiap","fmr":0.78,"fnmr":7.7},{"system":"Idiap","fmr":1.03,"fnmr":6.6},{"system":"Idiap","fmr":1.35,"fnmr":5.4},{"system":"Idiap","fmr":1.45,"fnmr":4.3},{"system":"Idiap","fmr":2.34,"fnmr":4},{"system":"Idiap","fmr":2.87,"fnmr":3.4},{"system":"Idiap","fmr":3.3,"fnmr":3},{"system":"Idiap","fmr":4.04,"fnmr":2.4},{"system":"Idiap","fmr":4.6,"fnmr":2},{"system":"Idiap","fmr":6.1,"fnmr":1.6},{"system":"Idiap","fmr":11.3,"fnmr":1.2},{"system":"Idiap","fmr":19.5,"fnmr":0.8},{"system":"Idiap","fmr":22.4,"fnmr":0.4},{"system":"Idiap","fmr":26.4,"fnmr":0.2},{"system":"Idiap","fmr":31.3,"fnmr":0.01},
{"system":"BOVIFOCR","fmr":0.1,"fnmr":25},{"system":"BOVIFOCR","fmr":0.198,"fnmr":11.5},{"system":"BOVIFOCR","fmr":0.615,"fnmr":8.6},{"system":"BOVIFOCR","fmr":1.03,"fnmr":6.8},{"system":"BOVIFOCR","fmr":2.04,"fnmr":6.2},{"system":"BOVIFOCR","fmr":2.2,"fnmr":4.9},{"system":"BOVIFOCR","fmr":3.3,"fnmr":4.3},{"system":"BOVIFOCR","fmr":4.3,"fnmr":3.6},{"system":"BOVIFOCR","fmr":5.3,"fnmr":3.1},{"system":"BOVIFOCR","fmr":6.5,"fnmr":2.7},{"system":"BOVIFOCR","fmr":8.6,"fnmr":2},{"system":"BOVIFOCR","fmr":12.9,"fnmr":1.6},{"system":"BOVIFOCR","fmr":14.8,"fnmr":1},{"system":"BOVIFOCR","fmr":18.2,"fnmr":0.8},{"system":"BOVIFOCR","fmr":24,"fnmr":0.6},{"system":"BOVIFOCR","fmr":25.7,"fnmr":0.4},{"system":"BOVIFOCR","fmr":27.6,"fnmr":0.2},{"system":"BOVIFOCR","fmr":48,"fnmr":0.01},
{"system":"MeVer","fmr":0.1,"fnmr":31.2},{"system":"MeVer","fmr":0.198,"fnmr":29.5},{"system":"MeVer","fmr":0.615,"fnmr":23.3},{"system":"MeVer","fmr":1.03,"fnmr":22.3},{"system":"MeVer","fmr":1.45,"fnmr":18.6},{"system":"MeVer","fmr":2.2,"fnmr":17.8},{"system":"MeVer","fmr":2.87,"fnmr":15.9},{"system":"MeVer","fmr":3.3,"fnmr":13.5},{"system":"MeVer","fmr":3.8,"fnmr":11.8},{"system":"MeVer","fmr":4.96,"fnmr":9.6},{"system":"MeVer","fmr":6.5,"fnmr":8.2},{"system":"MeVer","fmr":7.5,"fnmr":6},{"system":"MeVer","fmr":8.6,"fnmr":5.7},{"system":"MeVer","fmr":10.6,"fnmr":4.9},{"system":"MeVer","fmr":11.3,"fnmr":3.8},{"system":"MeVer","fmr":16,"fnmr":3.4},{"system":"MeVer","fmr":19.5,"fnmr":3},{"system":"MeVer","fmr":20.9,"fnmr":2.6},{"system":"MeVer","fmr":24,"fnmr":2},{"system":"MeVer","fmr":29.6,"fnmr":1.6},{"system":"MeVer","fmr":44.8,"fnmr":1.2},{"system":"MeVer","fmr":51.5,"fnmr":0.8},{"system":"MeVer","fmr":55,"fnmr":0.6},{"system":"MeVer","fmr":59,"fnmr":0.4},{"system":"MeVer","fmr":63,"fnmr":0.2},{"system":"MeVer","fmr":65,"fnmr":0.01},
{"system":"Aphi","fmr":0.1,"fnmr":30},{"system":"Aphi","fmr":0.198,"fnmr":25},{"system":"Aphi","fmr":0.407,"fnmr":22.3},{"system":"Aphi","fmr":0.615,"fnmr":10.7},{"system":"Aphi","fmr":1.03,"fnmr":10.3},{"system":"Aphi","fmr":1.26,"fnmr":9.4},{"system":"Aphi","fmr":2.2,"fnmr":7.5},{"system":"Aphi","fmr":3.1,"fnmr":6.8},{"system":"Aphi","fmr":4.04,"fnmr":6},{"system":"Aphi","fmr":5.3,"fnmr":5.4},{"system":"Aphi","fmr":6.5,"fnmr":4.5},{"system":"Aphi","fmr":8.6,"fnmr":3.6},{"system":"Aphi","fmr":12,"fnmr":3.1},{"system":"Aphi","fmr":14.8,"fnmr":2.4},{"system":"Aphi","fmr":18.2,"fnmr":2.2},{"system":"Aphi","fmr":19.5,"fnmr":1.6},{"system":"Aphi","fmr":25.7,"fnmr":1.2},{"system":"Aphi","fmr":34,"fnmr":1},{"system":"Aphi","fmr":36.4,"fnmr":0.6},{"system":"Aphi","fmr":48,"fnmr":0.2},{"system":"Aphi","fmr":100,"fnmr":0.01}
]
}
}
